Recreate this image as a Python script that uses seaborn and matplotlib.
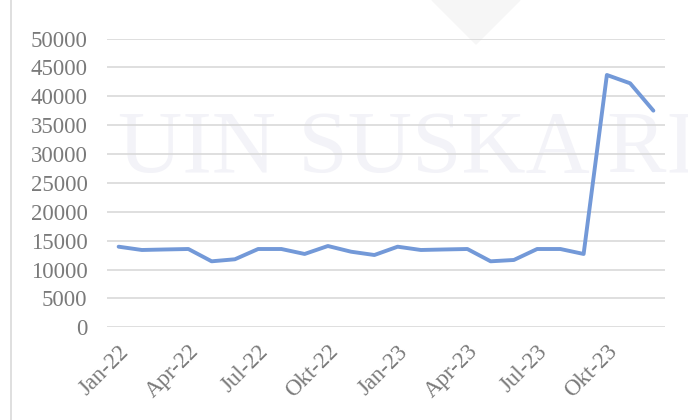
import numpy as np
import pandas as pd
import matplotlib
matplotlib.use("Agg")
import matplotlib.pyplot as plt
from matplotlib.patches import Polygon
import seaborn as sns

# monthly values Jan-22 .. Des-23
months = ["Jan-22", "Feb-22", "Mar-22", "Apr-22", "Mei-22", "Jun-22",
          "Jul-22", "Agu-22", "Sep-22", "Okt-22", "Nov-22", "Des-22",
          "Jan-23", "Feb-23", "Mar-23", "Apr-23", "Mei-23", "Jun-23",
          "Jul-23", "Agu-23", "Sep-23", "Okt-23", "Nov-23", "Des-23"]
values = [13960, 13390, 13480, 13560, 11430, 11780,
          13560, 13560, 12700, 14080, 13090, 12520,
          13960, 13390, 13480, 13560, 11430, 11660,
          13560, 13560, 12700, 43700, 42260, 37520]
tick_labels = ["Jan-22", "Apr-22", "Jul-22", "Okt-22",
               "Jan-23", "Apr-23", "Jul-23", "Okt-23"]

df = pd.DataFrame({"bulan": months, "nilai": values})
df["idx"] = np.arange(len(df))

sns.set_style("white")
plt.rcParams["font.family"] = ["Liberation Serif", "DejaVu Serif"]

fig = plt.figure(figsize=(6.88, 4.2), dpi=100)
ax = fig.add_axes([107 / 688, 1 - 327.3 / 420, (665 - 107) / 688, (327.3 - 38.6) / 420])
ax.patch.set_alpha(0)

# faint watermark + decorations behind the chart
fig.text(118 / 688, 1 - 172 / 420, "UIN SUSKA RIAU", fontsize=64, color="#f3f3f8",
         ha="left", va="baseline", zorder=-2)
fig.patches.append(Polygon([[432 / 688, 1.0], [520 / 688, 1.0], [476 / 688, 1 - 44 / 420]],
                           closed=True, transform=fig.transFigure, color="#f6f6f6",
                           zorder=-3))
fig.add_artist(plt.Line2D([11 / 688, 11 / 688], [0, 1], color="#d9d9d9", lw=1.2,
                          transform=fig.transFigure))

sns.lineplot(data=df, x="idx", y="nilai", ax=ax, color="#7399d8", lw=2.8, zorder=3)

ax.set_xlim(-0.5, len(months) - 0.5)
ax.set_ylim(0, 50000)
ax.set_yticks(np.arange(0, 50001, 5000))
ax.set_yticklabels([str(v) for v in range(0, 50001, 5000)])
ax.set_xticks([months.index(m) for m in tick_labels])
ax.set_xticklabels(tick_labels, rotation=45, ha="right", rotation_mode="anchor")
ax.grid(axis="y", color="#d9d9d9", lw=1.2)
ax.set_axisbelow(True)
for s in ax.spines.values():
    s.set_visible(False)
ax.tick_params(axis="y", length=0, pad=14, labelsize=16.5, labelcolor="#7a7a7a")
ax.tick_params(axis="x", length=0, pad=10, labelsize=16.5, labelcolor="#7a7a7a")
ax.set_xlabel("")
ax.set_ylabel("")

fig.savefig("out.png", dpi=100)
